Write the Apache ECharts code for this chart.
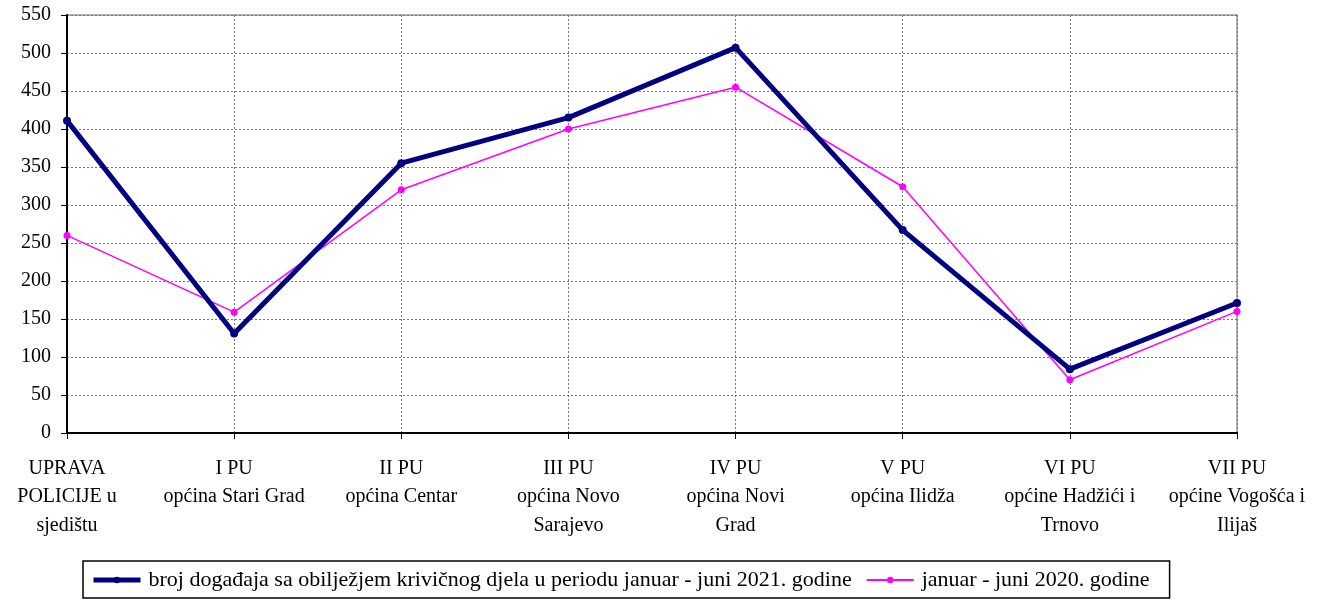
<!DOCTYPE html>
<html><head><meta charset="utf-8">
<script src="https://cdn.jsdelivr.net/npm/echarts@6/dist/echarts.min.js"></script>
<style>html,body{margin:0;padding:0;background:#fff}#c{width:1326px;height:600px}</style>
</head><body><div id="c"></div>
<script>
const categories = [
  "UPRAVA\nPOLICIJE u\nsjedištu",
  "I PU\nopćina Stari Grad",
  "II PU\nopćina Centar",
  "III PU\nopćina Novo\nSarajevo",
  "IV PU\nopćina Novi\nGrad",
  "V PU\nopćina Ilidža",
  "VI PU\nopćine Hadžići i\nTrnovo",
  "VII PU\nopćine Vogošća i\nIlijaš"
];
const seriesNames = [
  "broj događaja sa obilježjem krivičnog djela u periodu januar - juni 2021. godine",
  "januar - juni 2020. godine"
];
const values2021 = [411, 131, 355, 415, 507, 267, 84, 171];
const values2020 = [260, 159, 320, 400, 455, 324, 70, 160];
const yTicks = [0, 550, 50];

const font = "'Liberation Serif', 'Times New Roman', serif";
const chart = echarts.init(document.getElementById('c'));
chart.setOption({
  animation: false,
  textStyle: { fontFamily: font },
  grid: { left: 67, right: 89, top: 15, bottom: 167, show: true, borderColor: '#999', borderWidth: 1.5 },
  xAxis: {
    type: 'category', data: categories, boundaryGap: false,
    axisLine: { lineStyle: { color: '#000', width: 2 } },
    axisTick: { show: true, alignWithLabel: true, length: 6, lineStyle: { color: '#000', width: 1 } },
    axisLabel: { color: '#000', fontSize: 20, fontFamily: font, lineHeight: 28.5, margin: 21, interval: 0, align: 'center' },
    splitLine: { show: true, lineStyle: { color: '#777', type: [2, 2], width: 1 } }
  },
  yAxis: {
    type: 'value', min: yTicks[0], max: yTicks[1], interval: yTicks[2],
    axisLine: { show: true, lineStyle: { color: '#000', width: 2 } },
    axisTick: { show: true, length: 6, lineStyle: { color: '#000' } },
    axisLabel: { color: '#000', fontSize: 20, fontFamily: font, margin: 16 },
    splitLine: { show: true, lineStyle: { color: '#777', type: [2, 2], width: 1 } }
  },
  legend: {
    left: 83, top: 561,
    borderColor: '#000', borderWidth: 1.5, padding: [8, 20, 7, 8],
    itemWidth: 47, itemHeight: 8, itemGap: 14,
    textStyle: { color: '#000', fontSize: 22, fontFamily: font, padding: [0, 0, 0, 3] },
    data: [
      { name: seriesNames[0], lineStyle: { width: 5, color: '#000080' }, itemStyle: { color: '#000080' } },
      { name: seriesNames[1], lineStyle: { width: 2, color: '#FF00FF' }, itemStyle: { color: '#FF00FF' } }
    ]
  },
  series: [
    { name: seriesNames[0], type: 'line', data: values2021, symbol: 'circle', symbolSize: 8,
      lineStyle: { color: '#000080', width: 5 }, itemStyle: { color: '#000080' }, z: 3 },
    { name: seriesNames[1], type: 'line', data: values2020, symbol: 'circle', symbolSize: 7,
      lineStyle: { color: '#FF00FF', width: 1.5 }, itemStyle: { color: '#FF00FF' }, z: 2 }
  ]
});
</script></body></html>
